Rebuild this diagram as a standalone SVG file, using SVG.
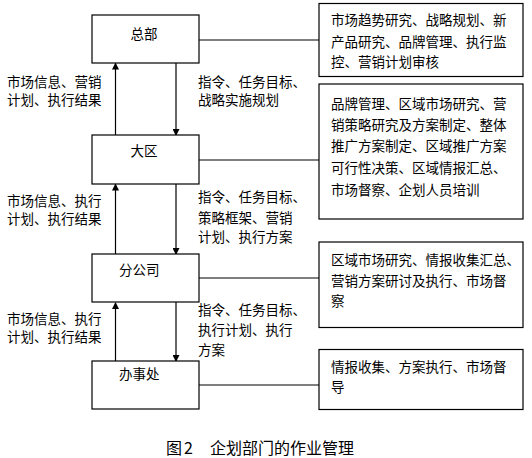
<svg xmlns="http://www.w3.org/2000/svg" width="532" height="458" viewBox="0 0 532 458">
<style>
  .box { fill: #fff; stroke: #000; stroke-width: 1.2; }
  .line { stroke: #000; stroke-width: 1.2; fill: none; }
  text { font-family: "Noto Sans CJK SC", "Noto Sans CJK JP", sans-serif; font-size: 13.5px; fill: #000; }
  .cap { font-size: 16px; }
</style>
<defs>
  <marker id="arr" markerWidth="7" markerHeight="7" refX="6" refY="3.5" orient="auto" markerUnits="userSpaceOnUse">
    <path d="M0,0 L7,3.5 L0,7 Z" fill="#000"/>
  </marker>
</defs>
<rect width="532" height="458" fill="#fff"/>
<g id="connectors">
  <line class="line" x1="199" y1="40" x2="319" y2="40"/>
  <line class="line" x1="199" y1="160" x2="319" y2="160"/>
  <line class="line" x1="199" y1="278" x2="319" y2="278"/>
  <line class="line" x1="199" y1="385" x2="319" y2="385"/>
  <line class="line" x1="115.5" y1="135" x2="115.5" y2="63.5" marker-end="url(#arr)"/>
  <line class="line" x1="176" y1="63" x2="176" y2="135" marker-end="url(#arr)"/>
  <line class="line" x1="115.5" y1="254" x2="115.5" y2="184.5" marker-end="url(#arr)"/>
  <line class="line" x1="176" y1="184" x2="176" y2="254" marker-end="url(#arr)"/>
  <line class="line" x1="115.5" y1="361" x2="115.5" y2="303" marker-end="url(#arr)"/>
  <line class="line" x1="176" y1="302" x2="176" y2="361" marker-end="url(#arr)"/>
  <text x="7" y="86.5">市场信息、营销</text>
  <text x="7" y="105">计划、执行结果</text>
  <text x="198" y="86.5">指令、任务目标、</text>
  <text x="198" y="105">战略实施规划</text>
  <text x="7" y="205.5">市场信息、执行</text>
  <text x="7" y="224">计划、执行结果</text>
  <text x="198" y="202">指令、任务目标、</text>
  <text x="198" y="222.5">策略框架、营销</text>
  <text x="198" y="242">计划、执行方案</text>
  <text x="7" y="323.5">市场信息、执行</text>
  <text x="7" y="342">计划、执行结果</text>
  <text x="198" y="315">指令、任务目标、</text>
  <text x="198" y="335">执行计划、执行</text>
  <text x="198" y="355">方案</text>
</g>
<g id="n-zongbu">
  <rect class="box" x="92" y="15" width="107" height="48"/>
  <text x="130.5" y="39">总部</text>
</g>
<g id="n-daqu">
  <rect class="box" x="92" y="135" width="107" height="49"/>
  <text x="130.5" y="156">大区</text>
</g>
<g id="n-fengongsi">
  <rect class="box" x="92" y="254" width="107" height="48"/>
  <text x="119" y="275">分公司</text>
</g>
<g id="n-banshichu">
  <rect class="box" x="92" y="361" width="107" height="48"/>
  <text x="119" y="379">办事处</text>
</g>
<g id="d-zongbu">
  <rect class="box" x="319" y="3.5" width="204" height="73"/>
  <text x="331" y="25">市场趋势研究、战略规划、新</text>
  <text x="331" y="46.5">产品研究、品牌管理、执行监</text>
  <text x="331" y="67">控、营销计划审核</text>
</g>
<g id="d-daqu">
  <rect class="box" x="319" y="84" width="204" height="135"/>
  <text x="331" y="109">品牌管理、区域市场研究、营</text>
  <text x="331" y="129.5">销策略研究及方案制定、整体</text>
  <text x="331" y="151">推广方案制定、区域推广方案</text>
  <text x="331" y="172.5">可行性决策、区域情报汇总、</text>
  <text x="331" y="195">市场督察、企划人员培训</text>
</g>
<g id="d-fengongsi">
  <rect class="box" x="319" y="242" width="204" height="85.5"/>
  <text x="331" y="265">区域市场研究、情报收集汇总、</text>
  <text x="331" y="286">营销方案研讨及执行、市场督</text>
  <text x="331" y="306">察</text>
</g>
<g id="d-banshichu">
  <rect class="box" x="319" y="349.5" width="204" height="60"/>
  <text x="331" y="372">情报收集、方案执行、市场督</text>
  <text x="331" y="392">导</text>
</g>
<g id="caption">
  <text class="cap" x="166" y="453.5">图</text>
  <text class="cap" x="184" y="453.5">2</text>
  <text class="cap" x="210" y="453.5">企划部门的作业管理</text>
</g>
</svg>
